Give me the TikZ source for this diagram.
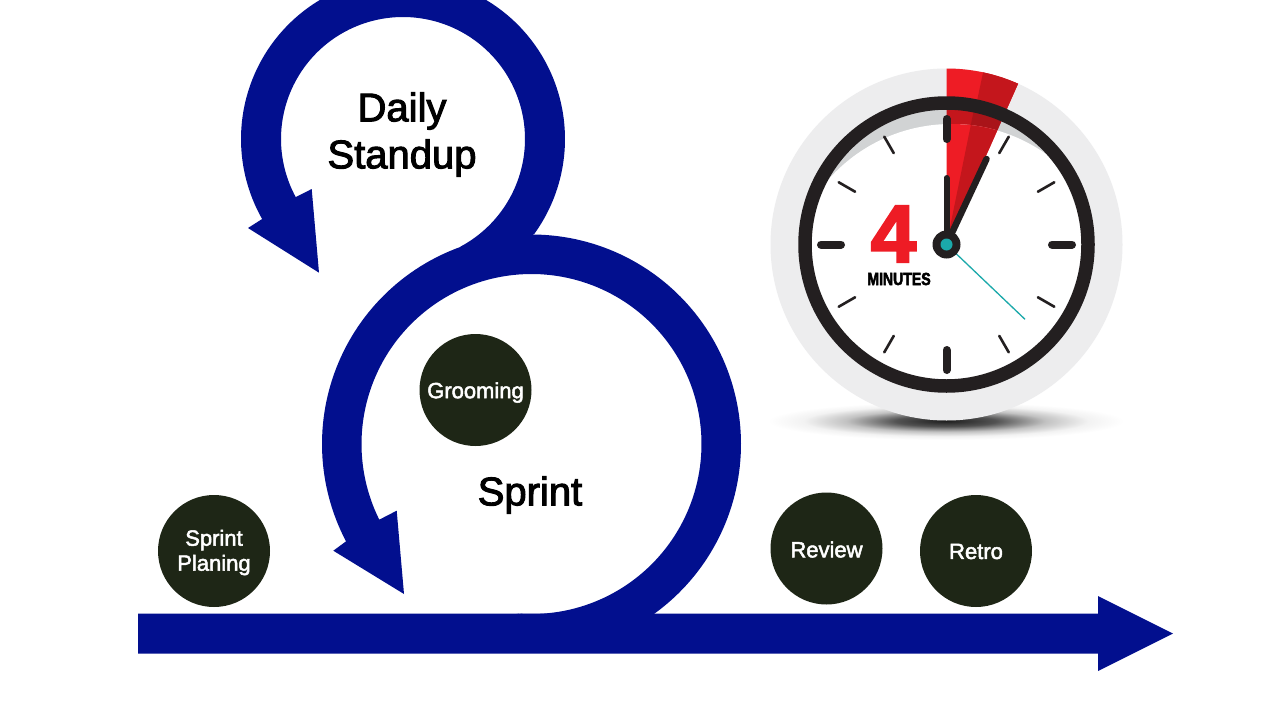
\documentclass[tikz,border=0pt]{standalone}
\usepackage{fontspec}
\setmainfont{Liberation Sans}
\newfontfamily\boldfont{Liberation Sans Bold}
\newfontfamily\minfont[FakeStretch=0.8]{Liberation Sans Bold}
\newcommand{\heavy}[2]{\special{pdf:code 2 Tr #1 w}#2\special{pdf:code 0 Tr}}
\newcommand{\dropped}[2]{\raisebox{-#1}[\height][\depth]{\heavy{0.5}{#2}}}
\definecolor{navy}{HTML}{020F8E}
\definecolor{disc}{HTML}{1E2616}
\definecolor{ink}{HTML}{231F20}
\definecolor{rim}{HTML}{EDEDEE}
\definecolor{crescent}{HTML}{D1D3D4}
\definecolor{redA}{HTML}{EE1C25}
\definecolor{redB}{HTML}{C4161C}
\definecolor{redC}{HTML}{C4161C}
\definecolor{redD}{HTML}{A91419}
\definecolor{teal}{HTML}{1BA9AA}
\pgfdeclareradialshading{shadowfade}{\pgfpoint{0bp}{0bp}}{color(0bp)=(black!88); color(7bp)=(black!68); color(14bp)=(black!24); color(20bp)=(black!5); color(25bp)=(white); color(50bp)=(white)}
\tikzset{
  discnode/.style={circle,fill=disc,minimum size=112pt,inner sep=0pt,text=white,align=center,font=\fontsize{22}{25}\selectfont},
  bigtext/.style={inner sep=0pt,align=center,text=black,font=\fontsize{40}{47}\selectfont},
  thicktick/.style={ink,line width=8pt,line cap=round},
  thintick/.style={ink,line width=2.6pt,line cap=round},
}
\newcommand{\wedgefill}[3]{\fill[#1] (946.5,244.5) -- plot[domain=#2:#3,samples=20] ({946.5+176*sin(\x)},{244.5-176*cos(\x)}) -- cycle;}
\begin{document}
\begin{tikzpicture}[x=1pt,y=-1pt]
\useasboundingbox (0,0) rectangle (1280,720);
\clip (0,0) rectangle (1280,720);
\fill[white] (0,0) rectangle (1280,720);
% upper loop
\fill[navy] plot[domain=36:-209.6,samples=150] ({403+162*cos(\x)},{139+162*sin(\x)})
  -- (248,228) -- (319,272.7) -- (311.7,189) -- (296,197)
  -- plot[domain=-208.5:62,samples=150] ({403+122*cos(\x)},{139+122*sin(\x)})
  -- (497,250) -- cycle;
% sprint loop
\fill[navy] plot[domain=60:-207.7,samples=170] ({531.5+209.5*cos(\x)},{444+209.5*sin(\x)})
  -- (333.3,550.7) -- (404,594) -- (396.7,510.7) -- (380,519.3)
  -- plot[domain=-206.4:95,samples=170] ({531.5+170*cos(\x)},{444+170*sin(\x)})
  -- cycle;
% time line
\fill[navy] (138,613.5) -- (1098,613.5) -- (1098,596) -- (1173,633.5) -- (1098,671) -- (1098,653.5) -- (138,653.5) -- cycle;
% discs
\node[discnode] (grooming) at (475.5,390) {\dropped{2.5pt}{Grooming}};
\node[discnode] (planing) at (214,551) {\dropped{1.5pt}{Sprint}\\\dropped{1.5pt}{Planing}};
\node[discnode] (review) at (826.5,548.5) {\dropped{1pt}{Review}};
\node[discnode] (retro) at (976,551) {\dropped{0.5pt}{Retro}};
\node[bigtext] (daily) at (402,134.5) {\heavy{1.0}{Daily}\\\heavy{1.0}{Standup}};
\node[bigtext] (sprint) at (530,495) {\heavy{1.0}{Sprint}};
% clock shadow
\shade[shading=shadowfade] (946,421) ellipse [x radius=178,y radius=19];
% clock rim
\fill[rim] (946.5,244.5) circle [radius=176];
\wedgefill{redA}{0}{24}
\wedgefill{redB}{12}{24}
\begin{scope}
  \clip (946.5,244.5) circle [radius=136];
  \fill[crescent] (946.5,244.5) circle [radius=136];
  \wedgefill{redC}{0}{24}
  \wedgefill{redD}{11.5}{24}
  \clip (951.4,288) circle [radius=164];
  \fill[white] (946.5,244.5) circle [radius=136];
  \wedgefill{redA}{0}{24}
  \wedgefill{redC}{11.5}{24}
\end{scope}
\draw[ink,line width=13.5pt] (946.5,244.5) circle [radius=141.5];
% ticks
\foreach \a in {0,90,180,270}
  \draw[thicktick] ({946.5+105.5*sin(\a)},{244.5-105.5*cos(\a)}) -- ({946.5+125.5*sin(\a)},{244.5-125.5*cos(\a)});
\foreach \a in {30,60,120,150,210,240,300,330}
  \draw[thintick] ({946.5+105.5*sin(\a)},{244.5-105.5*cos(\a)}) -- ({946.5+124.5*sin(\a)},{244.5-124.5*cos(\a)});
% label
\node[inner sep=0pt,text=redA,font=\boldfont\fontsize{81}{81}\selectfont] (four) at (893.5,234) {\heavy{2.4}{4}};
\node[inner sep=0pt,text=black,font=\minfont\fontsize{17.6}{18}\selectfont] (minutes) at (899,279) {\heavy{0.5}{MINUTES}};
% hands
\draw[teal,line width=1.3pt] (946.5,244.5) -- (1025,319.3);
\draw[ink,line width=6pt,line cap=round] (946.5,244.5) -- (946.5,178);
\draw[ink,line width=6.5pt,line cap=round] (946.5,244.5) -- (986.5,159);
\fill[ink] (946.5,244.5) circle [radius=14];
\fill[teal] (946.5,244.5) circle [radius=6];
\end{tikzpicture}
\end{document}
